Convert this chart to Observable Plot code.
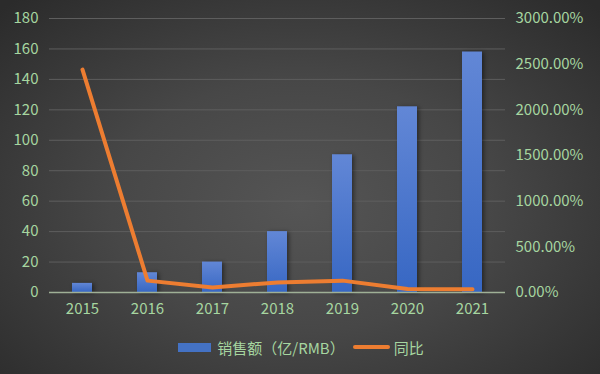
<!DOCTYPE html>
<html><head><meta charset="utf-8">
<script src="https://cdn.jsdelivr.net/npm/d3@7"></script>
<script src="https://cdn.jsdelivr.net/npm/@observablehq/plot@0.6"></script>
<style>
html,body{margin:0;padding:0;}
body{width:600px;height:374px;overflow:hidden;background:radial-gradient(ellipse 70% 75% at 50% 55%, #555 0%, #474747 45%, #2b2b2b 100%);font-family:"Noto Sans CJK SC","Noto Sans",sans-serif;}
#legend{display:flex;justify-content:center;align-items:center;height:54px;color:#a6d6a0;font-size:15px;margin-top:0;padding-left:3px;}
.sw{display:inline-block;}
</style></head><body>
<div id="chart"></div>
<div id="legend">
  <span class="sw" style="width:33px;height:9px;background:#4472c4;margin-right:6px;margin-left:-1px"></span><span>销售额（亿/RMB）</span>
  <span class="sw" style="width:37px;height:4px;background:#ed7d31;border-radius:2px;margin-left:8px;margin-right:4px"></span><span>同比</span>
</div>
<script>
const years = ["2015","2016","2017","2018","2019","2020","2021"];
const sales = [6, 13, 20, 40, 90.5, 122, 158];
const growth = [2440, 130, 55, 110, 130, 38, 35]; // percent
const leftTicks = [0,20,40,60,80,100,120,140,160,180];
const rightTicks = [0,500,1000,1500,2000,2500,3000];
const leftMax = 180, rightMax = 3000;
const toLeft = v => v / rightMax * leftMax;

const data = years.map((y,i)=>({year:y, sales:sales[i], growth:growth[i]}));

const plot = Plot.plot({
  width: 600, height: 320,
  marginTop: 18, marginBottom: 28, marginLeft: 49, marginRight: 95,
  style: {background: "transparent", color: "#a6d6a0", fontFamily: '"Noto Sans CJK SC","Noto Sans",sans-serif', fontSize: "15px"},
  x: {domain: years, paddingInner: 0.69, paddingOuter: 0.345, label: null},
  y: {domain: [0, leftMax], label: null},
  marks: [
    Plot.gridY(leftTicks, {stroke: "#5e5e5e", strokeOpacity: 1, strokeWidth: 1}),
    Plot.barY(data, {x: "year", y: "sales", fill: "url(#barGrad)"}),
    Plot.ruleY([0], {stroke: "#9fb096", strokeWidth: 1.5}),
    Plot.lineY(data, {x: "year", y: d => toLeft(d.growth), stroke: "#ed7d31", strokeWidth: 4, strokeLinejoin: "round"}),
    Plot.axisX({tickSize: 0, tickPadding: 11, fontSize: 15}),
    Plot.axisY(leftTicks, {anchor: "left", tickSize: 0, tickPadding: 11, fontSize: 15}),
    Plot.axisY(rightTicks.map(toLeft), {anchor: "right", tickSize: 0, tickPadding: 10, fontSize: 15,
      tickFormat: v => (v / leftMax * rightMax).toFixed(2) + "%"})
  ]
});
const ns = "http://www.w3.org/2000/svg";
const defs = document.createElementNS(ns, "defs");
defs.innerHTML = `<linearGradient id="barGrad" x1="0" y1="0" x2="0" y2="1" gradientUnits="objectBoundingBox">
  <stop offset="0" stop-color="#6287d6"/><stop offset="1" stop-color="#3767c3"/></linearGradient>`;
plot.insertBefore(defs, plot.firstChild);
plot.querySelectorAll("rect").forEach(r => r.style.filter = "drop-shadow(2px 1px 2px rgba(0,0,0,0.45))");
document.getElementById("chart").appendChild(plot);
</script>
</body></html>
